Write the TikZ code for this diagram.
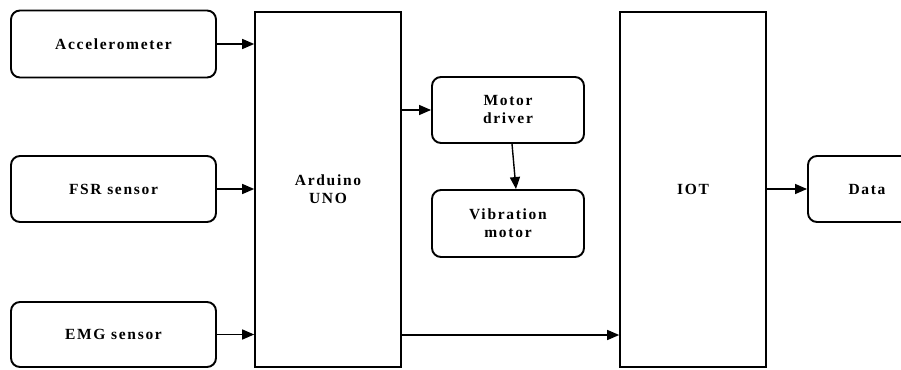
\documentclass[tikz,border=0pt]{standalone}
\usepackage{fontspec}
\setmainfont{Liberation Serif}[LetterSpace=11]
\usetikzlibrary{arrows.meta}
\begin{document}
\begin{tikzpicture}[x=1pt,y=-1pt,
  rbox/.style={draw, line width=1.9pt, rounded corners=9pt, inner sep=0pt, align=center, font=\fontsize{15.5}{18}\selectfont\bfseries},
  bigbox/.style={draw, line width=1.6pt, inner sep=0pt, align=center, font=\fontsize{15.5}{18}\selectfont\bfseries},
  arr/.style={line width=1.4pt, -{Triangle[length=12pt,width=10pt]}}]
\useasboundingbox (0,0) rectangle (901,369);
\clip (0,0) rectangle (901,369);
\node[rbox, minimum width=205pt, minimum height=67pt] (acc) at (113.5,44) {Accelerometer};
\node[rbox, minimum width=205pt, minimum height=66pt] (fsr) at (113.5,189) {FSR sensor};
\node[rbox, minimum width=205pt, minimum height=65pt] (emg) at (113.5,334.5) {EMG sensor};
\node[bigbox, minimum width=146pt, minimum height=355pt] (ard) at (328,189.5) {Arduino\\UNO};
\node[rbox, minimum width=152pt, minimum height=66pt] (md) at (508,110) {Motor\\driver};
\node[rbox, minimum width=152pt, minimum height=67pt] (vm) at (508,223.5) {Vibration\\motor};
\node[bigbox, minimum width=146pt, minimum height=355pt] (iot) at (693,189.5) {IOT};
\node[rbox, minimum width=118pt, minimum height=66pt] (data) at (867,189) {Data};
\draw[arr] (acc.east) -- (acc.east -| ard.west);
\draw[arr] (fsr.east) -- (fsr.east -| ard.west);
\draw[arr] (emg.east) -- (emg.east -| ard.west);
\draw[arr] (md.west -| ard.east) -- (md.west);
\draw[arr] ([xshift=4pt]md.south) -- ([xshift=8pt]vm.north);
\coordinate (b) at (401,335);
\draw[arr] (b -| ard.east) -- (b -| iot.west);
\draw[arr] (data.west -| iot.east) -- (data.west);
\end{tikzpicture}
\end{document}
